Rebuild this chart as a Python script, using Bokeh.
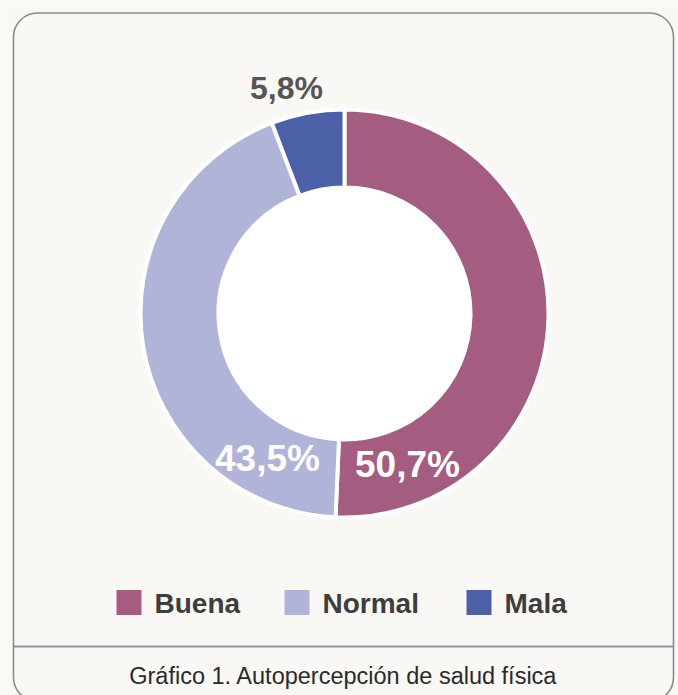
import numpy as np
from bokeh.plotting import figure
from bokeh.models import Range1d, BoxAnnotation, ColumnDataSource
from bokeh.core.properties import value
from bokeh.embed import file_html
from bokeh.resources import INLINE

# ---- data ----
categories = ["Buena", "Normal", "Mala"]
values = [50.7, 43.5, 5.8]
labels = ["50,7%", "43,5%", "5,8%"]
colors = ["#a45c80", "#b1b4d9", "#4b60a6"]
title_text = "Gráfico 1. Autopercepción de salud física"

BG = "#f9f8f5"
W, H = 678, 695

def Y(py):  # page y -> data y
    return H - py

p = figure(width=W, height=H, output_backend="svg", toolbar_location=None,
           x_range=Range1d(0, W), y_range=Range1d(0, H),
           min_border=0, background_fill_color=BG, border_fill_color=BG,
           outline_line_color=None)
p.axis.visible = False
p.grid.visible = False

# rounded frame
FL, FR = 13, 673
p.add_layout(BoxAnnotation(left=FL, right=FR, top=Y(12.5), bottom=Y(701),
                           fill_color=None, line_color="#8a8a8a", line_alpha=1.0,
                           line_width=1.6, border_radius=24))
p.segment(x0=[FL], y0=[Y(646)], x1=[FR], y1=[Y(646)], line_color="#959595", line_width=1.8)

# donut
cx, cy = 344, Y(313)
r_out, r_in = 204, 126
frac = np.array(values) / sum(values)
cum = np.concatenate([[0], np.cumsum(frac)])
start = np.pi / 2 - cum[:-1] * 2 * np.pi
end = np.pi / 2 - cum[1:] * 2 * np.pi
src = ColumnDataSource(dict(start=start, end=end, color=colors, cat=categories))
p.annular_wedge(x=cx, y=cy, inner_radius=r_in, outer_radius=r_out,
                start_angle="start", end_angle="end", direction="clock",
                fill_color="color", line_color="white", line_width=4, source=src)
p.circle(x=[cx], y=[cy], radius=r_in - 1, fill_color="white", line_color=None)

# value labels
lx = [407, 267, 286]
ly = [Y(464), Y(458), Y(87)]
lcol = ["white", "white", "#555555"]
lsize = ["37px", "37px", "32px"]
for i in range(3):
    p.text(x=[lx[i]], y=[ly[i]], text=[labels[i]], text_color=lcol[i],
           text_font=value("Liberation Sans"), text_font_style="bold",
           text_font_size=lsize[i], text_align="center", text_baseline="middle")

# legend
sq_x = [128.5, 296.5, 478.5]
tx = [154, 322, 504]
for i in range(3):
    p.rect(x=[sq_x[i]], y=[Y(602)], width=25, height=25, fill_color=colors[i], line_color=None)
    p.text(x=[tx[i]], y=[Y(603)], text=[categories[i]], text_color="#3d3d3d",
           text_font=value("Liberation Sans"), text_font_style="bold",
           text_font_size="28px", text_align="left", text_baseline="middle")

# caption
p.text(x=[343], y=[Y(675)], text=[title_text], text_color="#2a2a2a",
       text_font=value("Liberation Sans"), text_font_size="23.5px",
       text_align="center", text_baseline="middle")

html = file_html(p, INLINE)
open("out.html", "w").write(html)
